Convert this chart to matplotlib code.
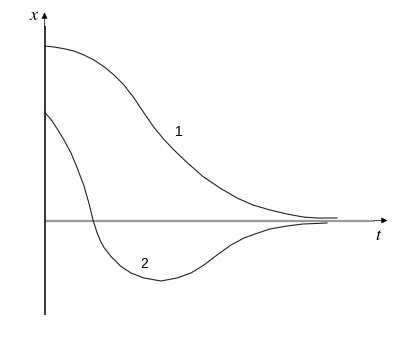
import matplotlib
matplotlib.use("Agg")
import matplotlib.pyplot as plt

plt.rcParams["mathtext.fontset"] = "stix"

# curve 1 (t, x)
t1 = [0.0, 0.95, 1.95, 2.95, 3.95, 4.95, 5.95, 6.95, 7.95, 8.95, 9.95, 10.95,
      11.95, 12.95, 14.25, 15.85, 17.55, 19.25, 20.85, 22.55, 24.25, 25.85,
      27.25, 29.25]
x1 = [17.45, 17.35, 17.18, 16.95, 16.55, 16.05, 15.38, 14.55, 13.55, 12.25,
      10.75, 9.3, 8.1, 7.05, 5.8, 4.4, 3.25, 2.25, 1.55, 1.05, 0.65, 0.35,
      0.25, 0.25]

# curve 2
t2 = [0.0, 0.65, 1.25, 1.95, 2.65, 3.25, 3.95, 4.45, 4.85, 5.25, 5.6, 5.95,
      6.65, 7.65, 8.65, 9.95, 11.65, 13.25, 14.65, 15.95, 17.25, 18.65, 19.95,
      21.05, 22.55, 24.25, 25.85, 28.25]
x2 = [10.85, 10.1, 9.2, 8.05, 6.75, 5.3, 3.45, 1.7, 0.05, -1.2, -2.05,
      -2.7, -3.6, -4.6, -5.25, -5.75, -6.05, -5.75, -5.25, -4.45, -3.45, -2.45,
      -1.75, -1.35, -0.85, -0.55, -0.35, -0.25]

labels = ["1", "2"]
label_pos = [(13.4, 8.8), (10.0, -4.4)]

fig = plt.figure(figsize=(4.0, 3.37), dpi=100, facecolor="white")
ax = fig.add_axes([0, 0, 1, 1])
ax.set_xlim(-4.45, 35.55)
ax.set_ylim(-11.65, 22.05)
ax.axis("off")

sans = ["Liberation Sans", "DejaVu Sans"]

# axes
ax.plot([0, 33.0], [0, 0], color="#999999", lw=1.6, solid_capstyle="butt", zorder=1)
ax.annotate("", xy=(34.3, 0), xytext=(33.0, 0),
            arrowprops=dict(arrowstyle="-|>", color="black", lw=0.5,
                            mutation_scale=9, shrinkA=0, shrinkB=0))
ax.plot([0, 0], [-9.45, 19.5], color="black", lw=1.1, solid_capstyle="butt", zorder=2)
ax.annotate("", xy=(0, 20.8), xytext=(0, 19.3),
            arrowprops=dict(arrowstyle="-|>", color="black", lw=0.5,
                            mutation_scale=9, shrinkA=0, shrinkB=0))

ax.plot(t1, x1, color="#222222", lw=0.8, zorder=3)
ax.plot(t2, x2, color="#222222", lw=0.8, zorder=3)

for s, (tx, ty) in zip(labels, label_pos):
    ax.text(tx, ty, s, fontsize=10, fontfamily=sans, ha="center", va="center")

ax.text(-1.05, 20.55, "$x$", fontsize=13, ha="center", va="center")
ax.text(33.45, -1.5, "$t$", fontsize=13, ha="center", va="center")

plt.savefig("out.png", dpi=100, facecolor=fig.get_facecolor())
